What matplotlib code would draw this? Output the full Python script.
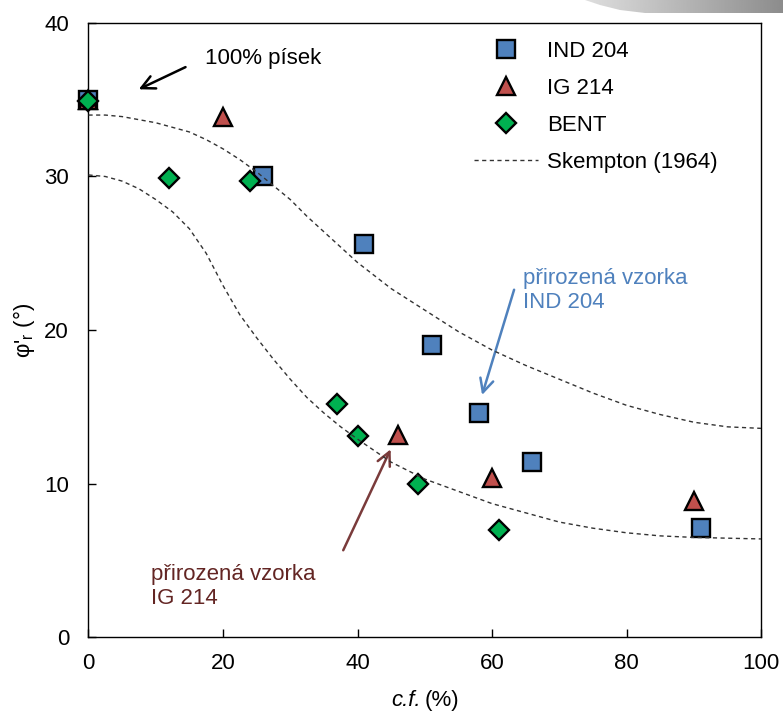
import numpy as np
import matplotlib.pyplot as plt
from matplotlib.patches import Polygon

plt.rcParams['font.family'] = ['Liberation Sans', 'DejaVu Sans']
plt.rcParams['mathtext.fontset'] = 'custom'
plt.rcParams['mathtext.rm'] = 'Liberation Sans'
plt.rcParams['mathtext.it'] = 'Liberation Sans:italic'

# Data
ind_cf = [0, 26, 41, 51, 58, 66, 91]
ind_phi = [35.0, 30.0, 25.6, 19.0, 14.6, 11.4, 7.1]
ig_cf = [0, 20, 46, 60, 90]
ig_phi = [35.0, 33.9, 13.2, 10.4, 8.9]
bent_cf = [0, 12, 24, 37, 40, 49, 61]
bent_phi = [34.9, 29.9, 29.7, 15.2, 13.1, 10.0, 7.0]

# Skempton (1964) bounds
skempton_cf = [0, 2.5, 5, 7.5, 10, 12.5, 15, 17.5, 20, 22.5, 25, 27.5, 30,
               32.5, 35, 37.5, 40, 45, 50, 55, 60, 65, 70, 75, 80, 85, 90, 95, 100]
skempton_upper = [34.0, 34.0, 33.9, 33.7, 33.5, 33.2, 32.9, 32.4, 31.8, 31.1,
                  30.3, 29.4, 28.5, 27.4, 26.4, 25.4, 24.4, 22.7, 21.3, 19.9,
                  18.7, 17.7, 16.8, 15.9, 15.1, 14.5, 14.0, 13.7, 13.6]
skempton_lower = [30.1, 30.0, 29.7, 29.2, 28.5, 27.7, 26.6, 25.0, 22.9, 21.0,
                  19.5, 18.1, 16.8, 15.6, 14.6, 13.7, 12.9, 11.4, 10.3, 9.5,
                  8.7, 8.1, 7.5, 7.1, 6.8, 6.6, 6.5, 6.45, 6.4]

fig = plt.figure(figsize=(7.83, 7.16), dpi=100)
ax = fig.add_axes([0.113, 0.110, 0.859, 0.858])

# Plot
ax.plot(ind_cf, ind_phi, 's', ms=13.5, mfc='#4f81bd', mec='black', mew=1.7,
        label='IND 204', clip_on=False, zorder=3)
ax.plot(ig_cf, ig_phi, '^', ms=13.5, mfc='#c0504d', mec='black', mew=1.7,
        label='IG 214', clip_on=False, zorder=3)
ax.plot(bent_cf, bent_phi, 'D', ms=10.5, mfc='#00b050', mec='black', mew=1.7,
        label='BENT', clip_on=False, zorder=3)
ax.plot(skempton_cf, skempton_upper, color='#333333', lw=1.0,
        linestyle=(0, (3, 2.5)), label='Skempton (1964)', zorder=4)
ax.plot(skempton_cf, skempton_lower, color='#333333', lw=1.0,
        linestyle=(0, (3, 2.5)), zorder=4)

# Axes
ax.set_xlim(0, 100)
ax.set_ylim(0, 40)
ax.set_xticks([0, 20, 40, 60, 80, 100])
ax.set_yticks([0, 10, 20, 30, 40])
ax.tick_params(direction='in', length=6, width=1, labelsize=16, colors='black')
ax.tick_params(axis='x', pad=11)
ax.tick_params(axis='y', pad=14)
for s in ax.spines.values():
    s.set_linewidth(1.0)
# x label: italic "c.f." followed by upright "(%)"
ax.text(0.494, -0.103, 'c.f.', transform=ax.transAxes, fontsize=16,
        fontstyle='italic', ha='right', va='center')
ax.text(0.500, -0.103, '(%)', transform=ax.transAxes, fontsize=16,
        ha='left', va='center')
ax.set_ylabel(r"φ'$_\mathregular{r}$ (°)", fontsize=16, labelpad=5)

# Legend
ax.legend(loc='upper left', bbox_to_anchor=(0.56, 0.985), frameon=False,
          fontsize=16, handlelength=2.9, handletextpad=0.4, labelspacing=0.72,
          borderaxespad=0)

# Annotations
ax.text(17.3, 37.7, '100% písek', fontsize=16, va='center', ha='left')
ax.annotate('', xy=(7.1, 35.6), xytext=(14.8, 37.2),
            arrowprops=dict(arrowstyle='->', lw=1.8, color='black', mutation_scale=24))

ax.text(64.6, 22.6, 'přirozená vzorka\nIND 204', fontsize=16, va='center',
        ha='left', color='#4f81bd', linespacing=1.2)
ax.annotate('', xy=(58.4, 15.6), xytext=(63.4, 22.8),
            arrowprops=dict(arrowstyle='->', lw=1.8, color='#4f81bd', mutation_scale=24))

ax.text(9.3, 3.3, 'přirozená vzorka\nIG 214', fontsize=16, va='center',
        ha='left', color='#632523', linespacing=1.2)
ax.annotate('', xy=(45.1, 12.4), xytext=(37.7, 5.5),
            arrowprops=dict(arrowstyle='->', lw=1.8, color='#7a3b3b', mutation_scale=24))

# grey slide decoration, top right
deco = fig.add_axes([0, 0, 1, 1], zorder=-1)
deco.set_xlim(0, 783)
deco.set_ylim(716, 0)
deco.axis('off')
grad = np.linspace(0.88, 0.55, 256).reshape(1, -1)
im = deco.imshow(grad, cmap='gray', vmin=0, vmax=1, aspect='auto',
                 extent=[580, 783, 14, 0])
shape = Polygon([(585, 0), (600, 5), (620, 10), (645, 13), (783, 13), (783, 0)],
                closed=True, transform=deco.transData)
im.set_clip_path(shape)

fig.savefig('out.png', dpi=100)
